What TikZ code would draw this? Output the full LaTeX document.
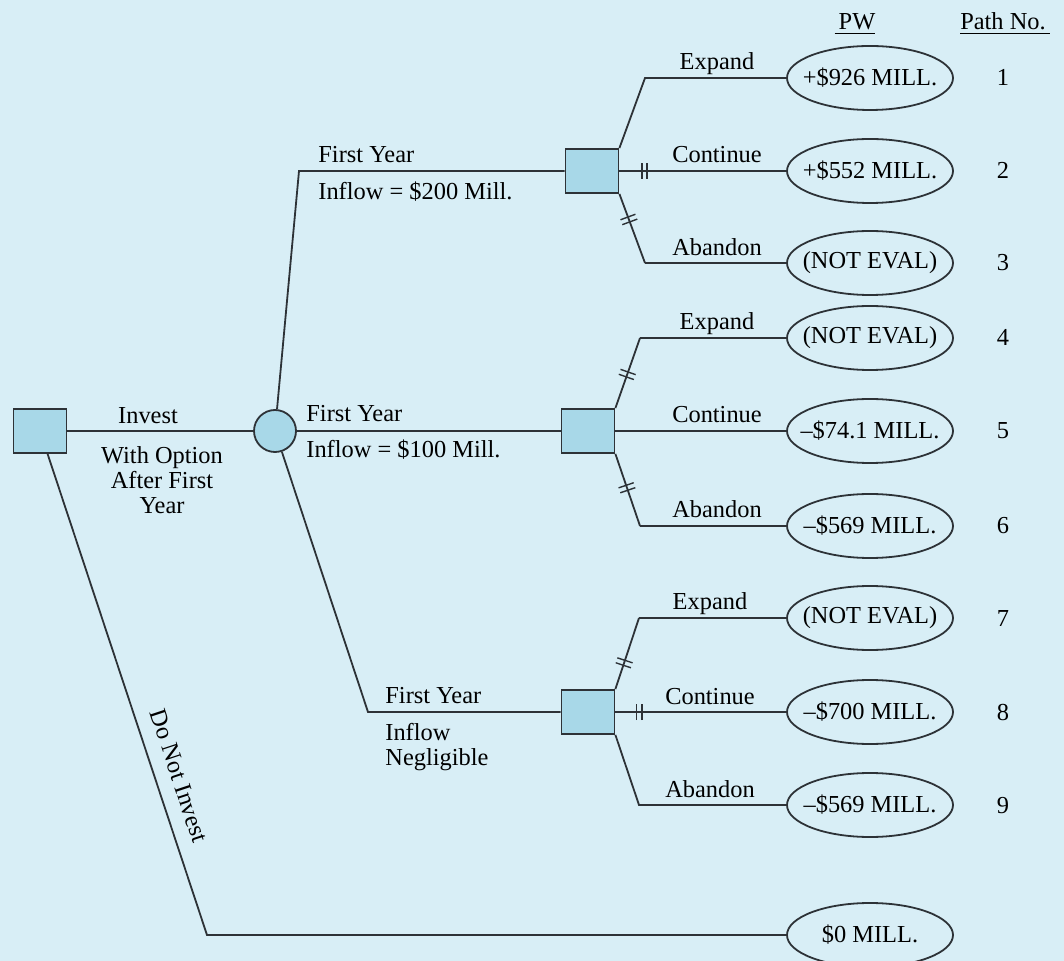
\documentclass[tikz,border=0pt]{standalone}
\usepackage{fontspec}
\setmainfont{Liberation Serif}
\usetikzlibrary{shapes.geometric,decorations.markings}

\definecolor{bgblue}{RGB}{216,238,246}
\definecolor{boxblue}{RGB}{168,216,232}
\definecolor{inkgray}{RGB}{45,50,55}

\newcommand{\pwval}[1]{\makebox[0pt]{#1}}

\tikzset{
  decbox/.style={draw=inkgray, fill=boxblue, line width=0.9pt, minimum width=26.5pt, minimum height=22pt, inner sep=0pt},
  chancenode/.style={circle, draw=inkgray, fill=boxblue, line width=0.9pt, minimum size=21pt, inner sep=0pt},
  payoff/.style={ellipse, draw=inkgray, line width=0.9pt, minimum width=83pt, minimum height=32pt, inner sep=0pt},
  branch/.style={draw=inkgray, line width=0.9pt},
  lbl/.style={anchor=base, inner sep=0pt},
  lbll/.style={anchor=base west, inner sep=0pt},
  hatch/.style={postaction={decorate, decoration={markings,
    mark=at position #1 with {\draw[inkgray, line width=0.7pt] (-1.3pt,-4pt) -- (-1.3pt,4pt) (1.3pt,-4pt) -- (1.3pt,4pt);}}}},
}

\begin{document}
\begin{tikzpicture}[x=0.5pt, y=-0.5pt, every node/.style={font=\fontsize{12.2}{12.5}\selectfont}]
  % Background
  \fill[bgblue] (0,0) rectangle (1064,961);
  \useasboundingbox (0,0) rectangle (1064,961);

  % Column heads
  \node[lbl] (pwhead) at (855,30) {\underline{\,PW}};
  \node[lbl] (pathhead) at (1005,30) {\underline{Path No.\,}};

  % Decision and chance nodes
  \node[decbox] (root) at (40,431) {};
  \node[chancenode] (chance) at (275,431) {};
  \node[decbox] (sq1) at (592,171) {};
  \node[decbox] (sq2) at (588,431) {};
  \node[decbox] (sq3) at (588,712) {};

  % Outcomes
  \node[payoff] (e1) at (870,78) {\pwval{+\$926 MILL.}};
  \node[payoff] (e2) at (870,171) {\pwval{+\$552 MILL.}};
  \node[payoff] (e3) at (870,263) {\pwval{(NOT EVAL)}};
  \node[payoff] (e4) at (870,338) {\pwval{(NOT EVAL)}};
  \node[payoff] (e5) at (870,431) {\pwval{--\$74.1 MILL.}};
  \node[payoff] (e6) at (870,526) {\pwval{--\$569 MILL.}};
  \node[payoff] (e7) at (870,618) {\pwval{(NOT EVAL)}};
  \node[payoff] (e8) at (870,712) {\pwval{--\$700 MILL.}};
  \node[payoff] (e9) at (870,805) {\pwval{--\$569 MILL.}};
  \node[payoff] (e0) at (870,935) {\pwval{\$0 MILL.}};

  % Path numbers
  \foreach \n/\y in {1/78, 2/171, 3/263, 4/338, 5/431, 6/526, 7/618, 8/712, 9/805} {
    \node[lbl] (num\n) at (1003,\y+8) {\n};
  }

  % Corners
  \coordinate (up) at (299,171);
  \coordinate (low) at (368,712);
  \coordinate (zero) at (207,935);
  \coordinate (x1) at (645,78);
  \coordinate (x3) at (645,263);
  \coordinate (x4) at (640,338);
  \coordinate (x6) at (640,526);
  \coordinate (x7) at (639,618);
  \coordinate (x9) at (639,805);

  % First stage
  \draw[branch] (root) -- (chance);
  \draw[branch] (chance) -- (up) -- (sq1);
  \draw[branch] (chance) -- (sq2);
  \draw[branch] (chance) -- (low) -- (sq3);
  \draw[branch] (root) -- (zero) -- (e0);

  % Second stage
  \draw[branch] (sq1.north east) -- (x1) -- (e1);
  \draw[branch, hatch=0.15] (sq1) -- (e2);
  \draw[branch, hatch=0.37] (sq1.south east) -- (x3);
  \draw[branch] (x3) -- (e3);
  \draw[branch, hatch=0.48] (sq2.north east) -- (x4);
  \draw[branch] (x4) -- (e4);
  \draw[branch] (sq2) -- (e5);
  \draw[branch, hatch=0.47] (sq2.south east) -- (x6);
  \draw[branch] (x6) -- (e6);
  \draw[branch, hatch=0.37] (sq3.north east) -- (x7);
  \draw[branch] (x7) -- (e7);
  \draw[branch, hatch=0.14] (sq3) -- (e8);
  \draw[branch] (sq3.south east) -- (x9) -- (e9);

  % Labels
  \node[lbl] (inv) at (148,424) {Invest};
  \node[anchor=north, align=center, inner sep=0pt] (opt) at (162,446) {With Option\\After First\\Year};
  \node[rotate=-71.7] (dni) at (179,776) {Do Not Invest};

  \node[lbll] (fy1) at (318,163) {First Year};
  \node[lbll] (in1) at (318,200) {Inflow = \$200 Mill.};
  \node[lbll] (fy2) at (306,422) {First Year};
  \node[lbll] (in2) at (306,458) {Inflow = \$100 Mill.};
  \node[lbll] (fy3) at (385,703) {First Year};
  \node[anchor=north west, align=left, inner sep=0pt] (in3) at (385,723) {Inflow\\Negligible};

  \node[lbl] (l1) at (717,70) {Expand};
  \node[lbl] (l2) at (717,163) {Continue};
  \node[lbl] (l3) at (717,256) {Abandon};
  \node[lbl] (l4) at (717,330) {Expand};
  \node[lbl] (l5) at (717,423) {Continue};
  \node[lbl] (l6) at (717,518) {Abandon};
  \node[lbl] (l7) at (710,610) {Expand};
  \node[lbl] (l8) at (710,704) {Continue};
  \node[lbl] (l9) at (710,797) {Abandon};
\end{tikzpicture}
\end{document}
